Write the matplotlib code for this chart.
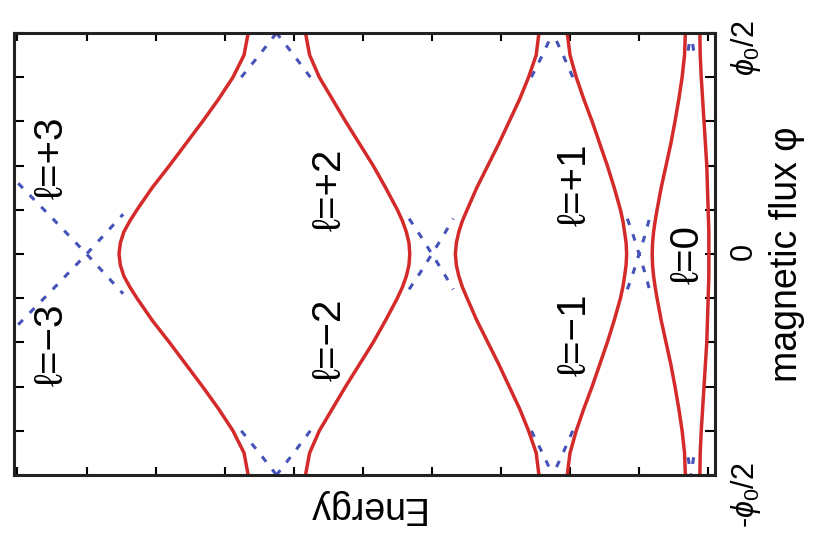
import matplotlib
matplotlib.use("Agg")
import matplotlib.pyplot as plt
from matplotlib.ticker import MultipleLocator

plt.rcParams['font.family'] = ['Liberation Sans', 'DejaVu Sans']
plt.rcParams['mathtext.fontset'] = 'custom'
plt.rcParams['mathtext.rm'] = 'Liberation Sans'
plt.rcParams['mathtext.it'] = 'Liberation Sans:italic'

# flux in units of phi0, energy in arbitrary units
phi = [-0.5, -0.45, -0.4, -0.35, -0.3, -0.25, -0.2, -0.15, -0.1, -0.075,
       -0.05, -0.025, 0.0, 0.025, 0.05, 0.075, 0.1, 0.15, 0.2, 0.25, 0.3,
       0.35, 0.4, 0.45, 0.5]

band0 = [0.12, 0.115, 0.10, 0.08, 0.06, 0.04, 0.02, 0.01, 0.0, -0.005,
         -0.01, -0.01, -0.01, -0.01, -0.01, -0.005, 0.0, 0.01, 0.02, 0.04,
         0.06, 0.08, 0.10, 0.115, 0.12]
band1 = [0.33, 0.342, 0.377, 0.425, 0.48, 0.54, 0.61, 0.68, 0.74, 0.767,
         0.79, 0.805, 0.81, 0.805, 0.79, 0.767, 0.74, 0.68, 0.61, 0.54, 0.48,
         0.425, 0.377, 0.342, 0.33]
band2 = [2.04, 2.00, 1.91, 1.80, 1.68, 1.57, 1.46, 1.36, 1.27, 1.235,
         1.21, 1.188, 1.18, 1.188, 1.21, 1.235, 1.27, 1.36, 1.46, 1.57, 1.68,
         1.80, 1.91, 2.00, 2.04]
band3 = [2.45, 2.49, 2.60, 2.73, 2.88, 3.03, 3.19, 3.35, 3.49, 3.558,
         3.61, 3.646, 3.66, 3.646, 3.61, 3.558, 3.49, 3.35, 3.19, 3.03, 2.88,
         2.73, 2.60, 2.49, 2.45]
band4 = [5.83, 5.77, 5.63, 5.44, 5.25, 5.05, 4.85, 4.67, 4.50, 4.427,
         4.37, 4.332, 4.32, 4.332, 4.37, 4.427, 4.50, 4.67, 4.85, 5.05, 5.25,
         5.44, 5.63, 5.77, 5.83]
band5 = [6.66, 6.72, 6.88, 7.09, 7.32, 7.56, 7.80, 8.05, 8.27, 8.372,
         8.46, 8.511, 8.53, 8.511, 8.46, 8.372, 8.27, 8.05, 7.80, 7.56, 7.32,
         7.09, 6.88, 6.72, 6.66]
bands = [band0, band1, band2, band3, band4, band5]

# free-ring levels near the crossings at phi = 0
phi_mid = [-0.08, -0.04, 0.0, 0.04, 0.08]
free_l1_mid = [1.17, 1.08, 1.0, 0.92, 0.85]   # l=+1
free_l2_mid = [4.33, 4.16, 4.0, 3.84, 3.69]   # l=+2
phi_l3 = [-0.16, -0.08, 0.0, 0.09]
free_l3 = [9.99, 9.49, 9.0, 8.47]             # l=+3

# free-ring levels near the crossings at phi = +phi0/2
phi_edge = [0.4, 0.45, 0.5]
free_lm1_edge = [1.96, 2.10, 2.25]   # l=-1
free_l2_edge = [2.56, 2.40, 2.25]    # l=+2
free_lm2_edge = [5.76, 6.00, 6.25]   # l=-2
free_l3_edge = [6.76, 6.50, 6.25]    # l=+3
phi_edge0 = [0.46, 0.5]
free_l0_edge = [0.21, 0.25]          # l=0
free_l1_edge = [0.29, 0.25]          # l=+1

labels = ['ℓ=+3', 'ℓ=−3', 'ℓ=+2', 'ℓ=−2', 'ℓ=+1', 'ℓ=−1', 'ℓ=0']
label_E = [9.5, 9.5, 5.48, 5.48, 1.93, 1.93, 0.30]
label_phi = [0.217, -0.206, 0.145, -0.195, 0.156, -0.183, 0.0]

red = '#d42a2a'
blue = '#4552b8'
dash = (0, (2.2, 3.2))

fig = plt.figure(figsize=(8.16, 5.52), dpi=100)
ax = fig.add_axes([0.0172, 0.1395, 0.8591, 0.8007])

def neg(v):
    return [-p for p in v]

# dashed free levels, each crossing drawn with its mirror partner
for e, p in [(free_l1_mid, phi_mid), (free_l2_mid, phi_mid), (free_l3, phi_l3)]:
    ax.plot(e, p, color=blue, lw=2.2, ls=dash)
    ax.plot(e, neg(p), color=blue, lw=2.2, ls=dash)
for e, p in [(free_lm1_edge, phi_edge), (free_l2_edge, phi_edge),
             (free_lm2_edge, phi_edge), (free_l3_edge, phi_edge),
             (free_l0_edge, phi_edge0), (free_l1_edge, phi_edge0)]:
    ax.plot(e, p, color=blue, lw=2.2, ls=dash)
    ax.plot(e, neg(p), color=blue, lw=2.2, ls=dash)

for b in bands:
    ax.plot(b, phi, color=red, lw=2.5)

for t, e, p in zip(labels, label_E, label_phi):
    ax.text(e, p, t, rotation=90, fontsize=29, ha='center', va='center')

ax.set_xlim(10.05, -0.1)
ax.set_ylim(-0.5, 0.5)

ax.xaxis.set_major_locator(MultipleLocator(1))
ax.set_yticks([-0.5, 0.0, 0.5])
ax.set_yticklabels([r'-$\phi_0$/2', '0', r'$\phi_0$/2'])
ax.yaxis.set_minor_locator(MultipleLocator(0.1))
ax.tick_params(axis='x', which='both', direction='in', top=True, bottom=True,
               labelbottom=False, length=6, width=1.5)
ax.tick_params(axis='y', which='both', direction='in', left=True, right=True,
               labelleft=False, labelright=True, length=7, width=1.5,
               labelrotation=90, labelsize=22, pad=10)
for s in ax.spines.values():
    s.set_linewidth(2.2)
    s.set_color('#222222')

ax.yaxis.set_label_position('right')
ax.set_ylabel('magnetic flux φ', fontsize=27, rotation=90, labelpad=4)
ax.set_xlabel('Energy', fontsize=27, rotation=180, labelpad=10)

fig.savefig('out.png', dpi=100)
